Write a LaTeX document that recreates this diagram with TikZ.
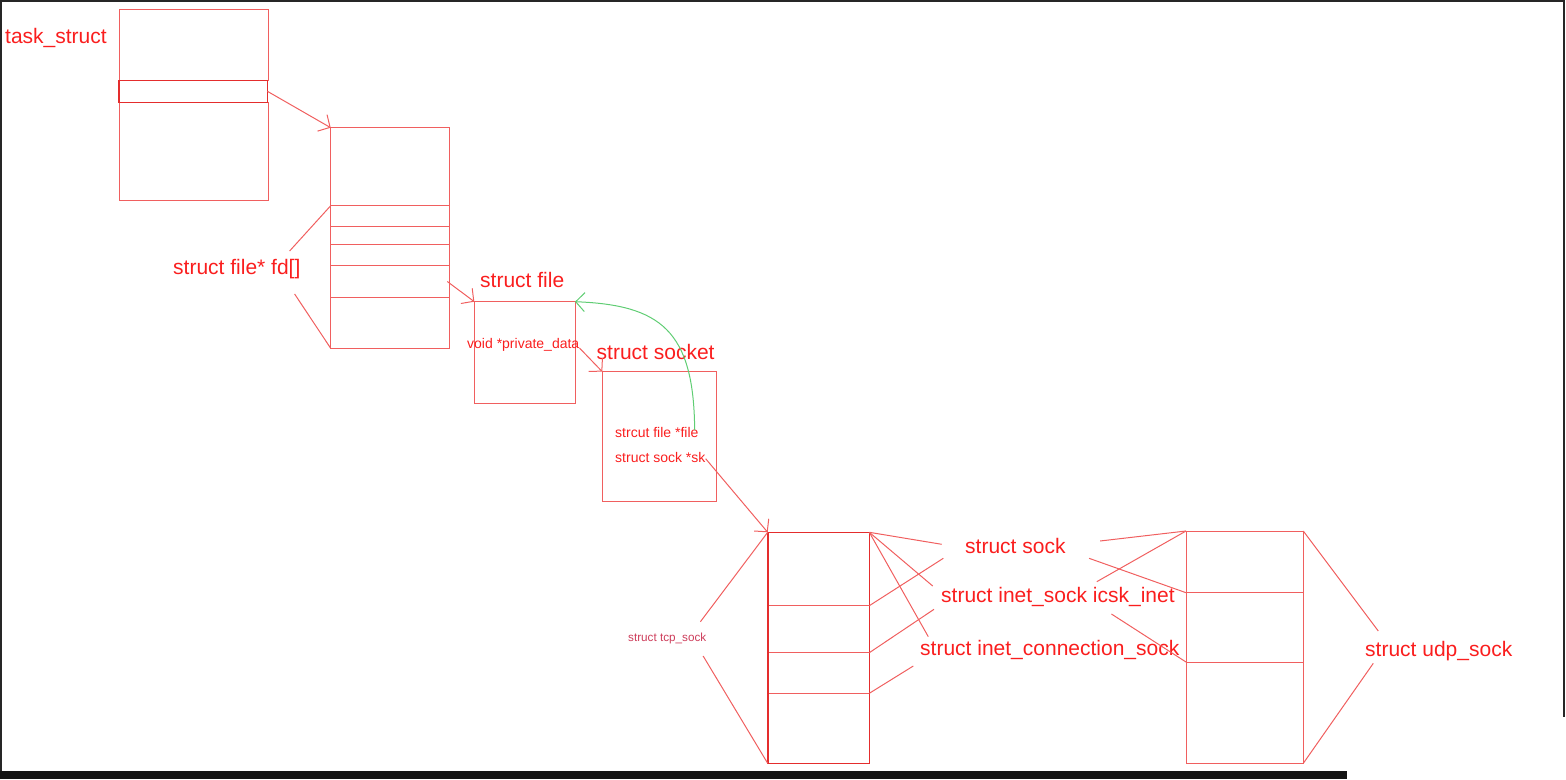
\documentclass[tikz,border=0pt]{standalone}
\usepackage{fontspec}
\setmainfont{Liberation Sans}
\usepackage{xcolor}
\usepackage{tikz}
\usetikzlibrary{positioning, arrows.meta, calc}

\definecolor{linered}{RGB}{240,95,95}
\definecolor{deepred}{RGB}{228,45,45}
\definecolor{txtred}{RGB}{250,30,30}
\definecolor{dimred}{RGB}{205,60,90}
\definecolor{backgreen}{RGB}{95,205,115}

\begin{document}
\begin{tikzpicture}[
    x=1pt, y=-1pt,
    cell/.style={
        draw=linered, line width=1pt, inner sep=0pt, outer sep=0pt,
        anchor=north west
    },
    hotcell/.style={cell, draw=deepred, line width=1.6pt},
    lbl/.style={text=txtred, font=\fontsize{21}{24}\selectfont, inner sep=0pt, anchor=base west},
    slbl/.style={lbl, font=\fontsize{14}{16}\selectfont},
    tlbl/.style={lbl, text=dimred, font=\fontsize{11.7}{13}\selectfont},
    arr/.style={-{Straight Barb[length=9pt, width=19pt]}, draw=linered, line width=1pt},
    backarr/.style={arr, draw=backgreen},
    brace/.style={draw=linered, line width=1pt},
    frame/.style={draw=black!85, line width=2pt},
]
\useasboundingbox (0,0) rectangle (1566,779);

% screenshot frame
\draw[frame] (1,779) -- (1,1) -- (1564,1) -- (1564,717);
\fill[black!92] (0,770.7) rectangle (1346.7,779);

% task_struct
\node[cell, minimum width=148.6pt, minimum height=71pt] (task0) at (119.5,9.3) {};
\node[cell, minimum width=148.6pt, minimum height=98pt] (task1) at (119.5,102.3) {};
\node[hotcell, minimum width=148.4pt, minimum height=22pt] (taskrow) at (119,80.3) {};
\node[lbl] (tasklbl) at (5,43) {task\_struct};

% fd table
\node[cell, minimum width=118.6pt, minimum height=78pt] (fd0) at (330.7,127.7) {};
\node[cell, minimum width=118.6pt, minimum height=21pt] (fd1) at (330.7,205.7) {};
\node[cell, minimum width=118.6pt, minimum height=17.6pt] (fd2) at (330.7,226.7) {};
\node[cell, minimum width=118.6pt, minimum height=21.4pt] (fd3) at (330.7,244.3) {};
\node[cell, minimum width=118.6pt, minimum height=31.6pt] (fd4) at (330.7,265.7) {};
\node[cell, minimum width=118.6pt, minimum height=51pt] (fd5) at (330.7,297.3) {};
\node[lbl] (fdlbl) at (173,274) {struct file* fd[]};

% struct file
\node[cell, minimum width=100.7pt, minimum height=101.6pt] (file) at (474.3,301.7) {};
\node[lbl] (filelbl) at (480,287) {struct file};
\node[slbl] (pdata) at (467,348) {void *private\_data};

% struct socket
\node[cell, minimum width=114.4pt, minimum height=130pt] (socket) at (602.3,371.7) {};
\node[lbl] (socketlbl) at (596.5,359.3) {struct socket};
\node[slbl] (filep) at (615,437.7) {strcut file *file};
\node[slbl] (skp) at (615,462.7) {struct sock *sk};

% tcp_sock
\node[cell, minimum width=101.6pt, minimum height=73.4pt] (tcp1) at (767.7,532.3) {};
\node[cell, minimum width=101.6pt, minimum height=47pt] (tcp2) at (767.7,605.7) {};
\node[cell, minimum width=101.6pt, minimum height=40.6pt] (tcp3) at (767.7,652.7) {};
\node[cell, minimum width=101.6pt, minimum height=70pt] (tcp4) at (767.7,693.3) {};
\node[hotcell, minimum width=101.6pt, minimum height=231pt] (tcp) at (767.7,532.3) {};
\node[tlbl] (tcplbl) at (628,641.7) {struct tcp\_sock};

% member names
\node[lbl] (sock) at (965,553.3) {struct sock};
\node[lbl] (inet) at (941,602.7) {struct inet\_sock icsk\_inet};
\node[lbl] (conn) at (920,655.7) {struct inet\_connection\_sock};

% udp_sock
\node[cell, minimum width=117.3pt, minimum height=61.7pt] (udp1) at (1186,531) {};
\node[cell, minimum width=117.3pt, minimum height=69.3pt] (udp2) at (1186,592.7) {};
\node[cell, minimum width=117.3pt, minimum height=101.3pt] (udp3) at (1186,662) {};
\node[lbl] (udplbl) at (1365,656.7) {struct udp\_sock};

% pointers
\draw[arr] (taskrow.east) -- (fd0.north west);
\draw[arr] ([xshift=-2pt]fd4.east) -- (file.north west);
\draw[arr] (pdata.base east) -- (socket.north west);
\draw[arr] ([shift={(0,-4)}]skp.base east) -- (tcp.north west);
\draw[backarr] ([shift={(-4,-7.7)}]filep.base east) .. controls (694,330) and (660,305) .. (file.north east);

% braces round the labels
\draw[brace] ([shift={(-11,-23)}]fdlbl.base east) -- (fd1.north west);
\draw[brace] ([shift={(-6,20)}]fdlbl.base east) -- (fd5.south west);
\draw[brace] ([shift={(-6,-20)}]tcplbl.base east) -- (tcp.north west);
\draw[brace] ([shift={(-3.3,14.3)}]tcplbl.base east) -- (tcp.south west);
\draw[brace] (udp1.north east) -- ([shift={(13.3,-25.7)}]udplbl.base west);
\draw[brace] ([shift={(8.3,6.6)}]udplbl.base west) -- (udp3.south east);

% tcp_sock -> members
\draw[brace] (tcp.north east) -- ([shift={(-23.3,-9)}]sock.base west);
\draw[brace] (tcp.north east) -- ([shift={(-8.3,-16.7)}]inet.base west);
\draw[brace] (tcp.north east) -- ([shift={(8.3,-19)}]conn.base west);
\draw[brace] (tcp2.north east) -- ([shift={(-21.7,5)}]sock.base west);
\draw[brace] (tcp3.north east) -- ([shift={(-7,6.6)}]inet.base west);
\draw[brace] (tcp4.north east) -- ([shift={(-6.7,10.3)}]conn.base west);

% members -> udp_sock
\draw[brace] ([shift={(34.3,-12.3)}]sock.base east) -- (udp1.north west);
\draw[brace] ([shift={(31,28.4)}]sock.base east) -- (udp1.north west);
\draw[brace] ([shift={(23.3,5)}]sock.base east) -- (udp2.north west);
\draw[brace] ([shift={(-63.4,11.3)}]inet.base east) -- (udp3.north west);

\end{tikzpicture}
\end{document}
